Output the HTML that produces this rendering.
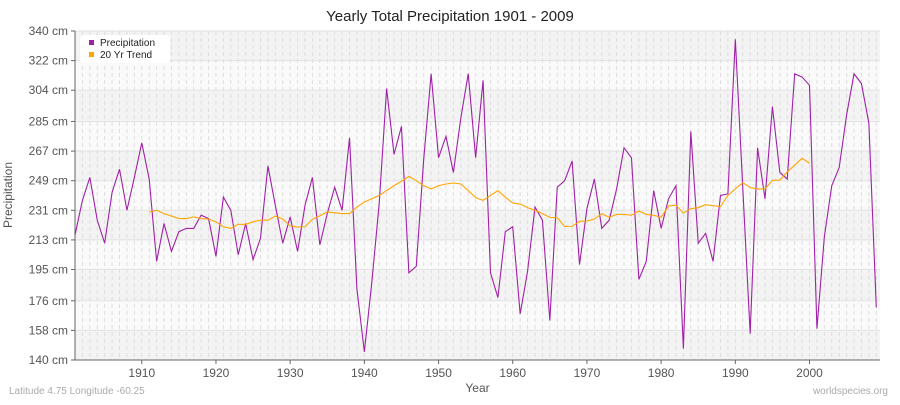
<!DOCTYPE html>
<html><head><meta charset="utf-8"><style>
body{margin:0;background:#fff;font-family:"Liberation Sans",sans-serif}
</style></head><body>
<svg id="c" width="900" height="400" xmlns="http://www.w3.org/2000/svg"></svg>
<script>
const years=[];for(let y=1901;y<=2009;y++)years.push(y);
const precip=[216,237,251,225,211,242,256,231,251,272,250,200,223,206,218,220,220,228,226,203,239,231,204,223,201,214,258,234,211,227,206,234,251,210,229,245,231,275,183,145,187,235,305,265,282,193,197,262,314,263,276,254,287,314,263,310,193,178,218,221,168,194,233,225,164,245,249,261,198,232,250,220,225,244,269,263,189,200,243,220,238,246,147,279,211,217,200,240,241,335,245,156,269,238,294,254,250,314,312,307,159,215,246,257,289,314,308,284,172];
const trendStart=1911;
const trend=[230,231,229,227.5,226,226,227,226,225.7,224,221,220,222.5,222.5,224,225,225,227.5,225.7,221.5,220.8,221,225.6,227.7,230,229.5,229,229,233,236,238,240,243,246,248.6,251.6,249,246,244,246,247,247.6,247,243,238.7,237,240,243,239,235.4,234.8,232.6,231,229,226.7,226.5,221.2,221.3,224.3,224.5,225.7,229,226.7,228.5,228.5,228,230.6,228.5,228,226.7,233.6,234.2,229.3,232,232.6,234.4,233.8,233.3,240,244,247.8,244.8,244,244,249.2,249.4,254.3,258.5,262.6,259.6];
const yTicks=[140,158,176,195,213,231,249,267,285,304,322,340];
const xTicks=[1910,1920,1930,1940,1950,1960,1970,1980,1990,2000];
const X0=75,X1=880,Y0=31,Y1=360;
const xs=y=>X0+(y-1901)*(X1-X0)/108.5;
const ys=v=>Y1-(v-140)*(Y1-Y0)/200;
const svg=document.getElementById('c');const NS='http://www.w3.org/2000/svg';
function mk(t,a,p){const e=document.createElementNS(NS,t);for(const k in a)e.setAttribute(k,a[k]);(p||svg).appendChild(e);return e;}
// bands
for(let i=0;i<11;i++){
 const b=mk('rect',{x:X0,y:Y0+i*(Y1-Y0)/11,width:X1-X0,height:(Y1-Y0)/11,fill:i%2?'#fafafa':'#f3f3f3'});
 
 
}
for(let y=1901;y<=2009;y++){
 const l=mk('line',{x1:xs(y),x2:xs(y),y1:Y0,y2:Y1,stroke:'#dedede','stroke-dasharray':'4,3','stroke-width':1});
 
 
}
yTicks.forEach(v=>{
 const l=mk('line',{x1:X0,x2:X1,y1:ys(v),y2:ys(v),stroke:'#e2e2e2','stroke-width':1});
 
 
 const t=mk('text',{x:X0-7,y:ys(v)+4,'text-anchor':'end','font-size':12,fill:'#555'});
 t.textContent=v+' cm';
 
 
 const k=mk('line',{x1:X0-4,x2:X0,y1:ys(v),y2:ys(v),stroke:'#666'});
 
 
});
xTicks.forEach(v=>{
 const t=mk('text',{x:xs(v),y:Y1+17,'text-anchor':'middle','font-size':12,fill:'#555'});
 t.textContent=v;
 
 
 const k=mk('line',{x1:xs(v),x2:xs(v),y1:Y1,y2:Y1+4,stroke:'#666'});
 
 
});
const ax=mk('path',{d:`M${X0},${Y0}V${Y1}H${X1}`,fill:'none',stroke:'#666'});


const pl=mk('polyline',{points:precip.map((v,i)=>xs(years[i])+','+ys(v)).join(' '),fill:'none',stroke:'#a020a8','stroke-width':1.1});


const tl=mk('polyline',{points:trend.map((v,i)=>xs(trendStart+i)+','+ys(v)).join(' '),fill:'none',stroke:'#ffa500','stroke-width':1.1});


</script>
<div style="position:absolute;left:0;top:0;width:900px;height:400px;pointer-events:none">
<div style="position:absolute;top:8px;width:900px;text-align:center;font-size:15px;color:#222">Yearly Total Precipitation 1901 - 2009</div>
<div style="position:absolute;left:80px;top:35px;width:90px;height:28px;background:#fff;border-radius:4px;font-size:10px;color:#222">
 <div style="position:absolute;left:9px;top:3px"><span style="display:inline-block;width:5px;height:5px;background:#a020a8;margin-right:6px;vertical-align:1px"></span>Precipitation</div>
 <div style="position:absolute;left:9px;top:15px"><span style="display:inline-block;width:5px;height:5px;background:#ffa500;margin-right:6px;vertical-align:1px"></span>20 Yr Trend</div>
</div>
<div style="position:absolute;left:-32px;top:188px;width:80px;text-align:center;transform:rotate(-90deg);font-size:12px;color:#555">Precipitation</div>
<div style="position:absolute;left:0;top:381px;width:955px;text-align:center;font-size:12px;color:#555">Year</div>
<div style="position:absolute;left:9px;top:386px;font-size:10px;color:#aaa">Latitude 4.75 Longitude -60.25</div>
<div style="position:absolute;right:12px;top:386px;font-size:10px;color:#aaa">worldspecies.org</div>
</div>
</body></html>
